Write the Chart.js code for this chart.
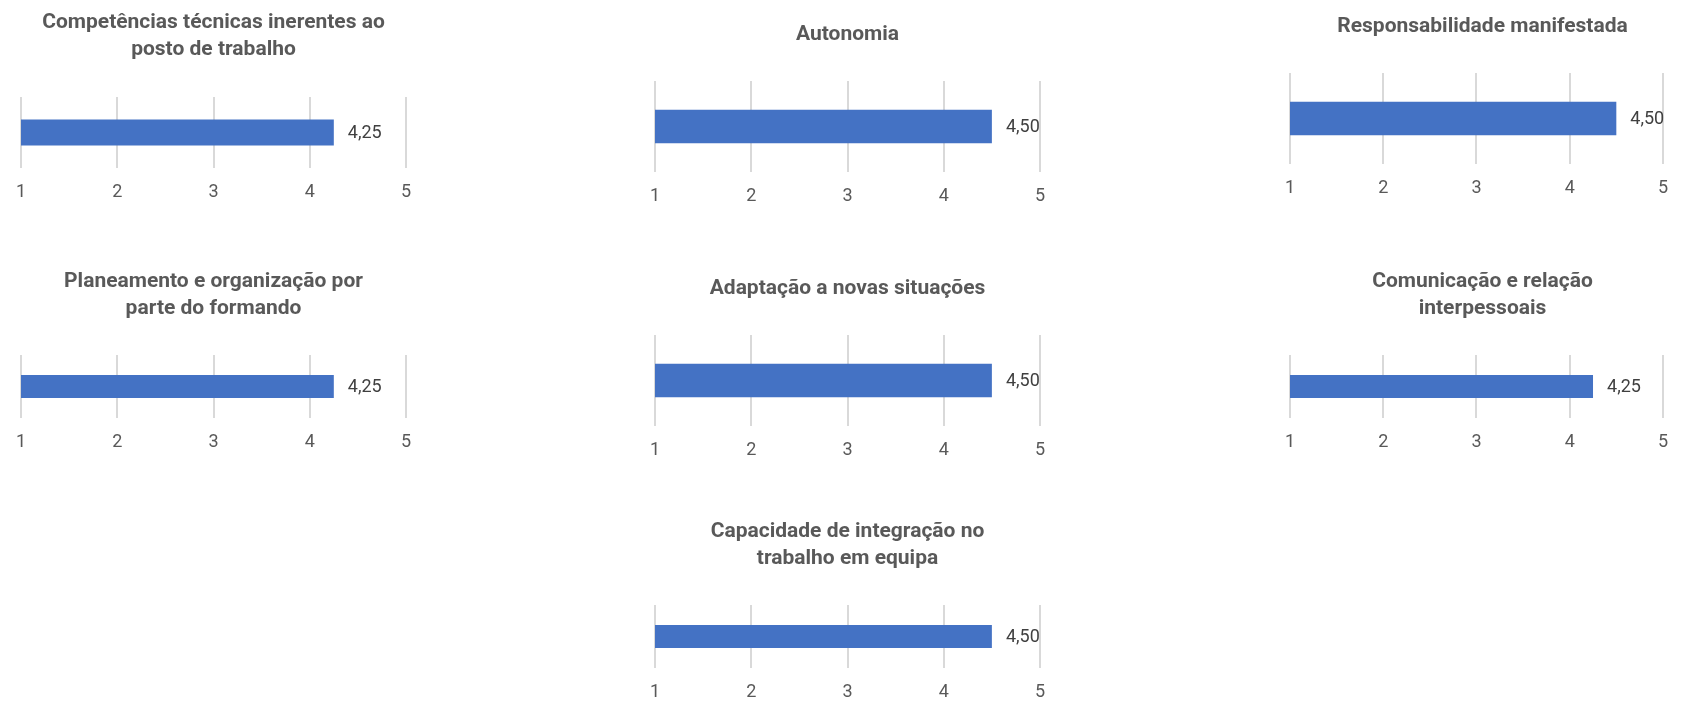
<!DOCTYPE html>
<html>
<head>
<meta charset="utf-8">
<script src="https://cdn.jsdelivr.net/npm/chart.js@4.4.1/dist/chart.umd.min.js"></script>
<style>
  body { margin: 0; background: #fff; }
  #page { position: relative; width: 1682px; height: 702px; overflow: hidden; }
  canvas { position: absolute; }
</style>
</head>
<body>
<div id="page"></div>
<script>
// data
var titles = [
    ['Competências técnicas inerentes ao', 'posto de trabalho'],
    ['Autonomia'],
    ['Responsabilidade manifestada'],
    ['Planeamento e organização por', 'parte do formando'],
    ['Adaptação a novas situações'],
    ['Comunicação e relação', 'interpessoais'],
    ['Capacidade de integração no', 'trabalho em equipa']
];
var scores = [4.25, 4.50, 4.50, 4.25, 4.50, 4.25, 4.50];
var scaleMin = 1;
var scaleMax = 5;

// where each small chart sits on the page (canvas box + plot area)
var panels = [
    { x: 0,    y: 0,   w: 560, h: 250, left: 21,   right: 406,  top: 97,  bottom: 168, titleY: 23 },
    { x: 560,  y: 0,   w: 560, h: 250, left: 655,  right: 1040, top: 81,  bottom: 172, titleY: 35 },
    { x: 1120, y: 0,   w: 562, h: 250, left: 1290, right: 1675, top: 73,  bottom: 164, titleY: 27 },
    { x: 0,    y: 250, w: 560, h: 250, left: 21,   right: 406,  top: 355, bottom: 418, titleY: 282 },
    { x: 560,  y: 250, w: 560, h: 250, left: 655,  right: 1040, top: 335, bottom: 426, titleY: 289 },
    { x: 1120, y: 250, w: 562, h: 250, left: 1290, right: 1675, top: 355, bottom: 418, titleY: 282 },
    { x: 560,  y: 500, w: 560, h: 202, left: 655,  right: 1040, top: 605, bottom: 668, titleY: 532 }
];

var titleLine = 27;
var tickPad = 14;
var tickLine = 21.6;

var valueLabels = {
    id: 'valueLabels',
    afterDatasetsDraw: function (chart) {
        var ctx = chart.ctx;
        var meta = chart.getDatasetMeta(0);
        ctx.save();
        ctx.font = '18px Roboto, "Liberation Sans", sans-serif';
        ctx.fillStyle = '#404040';
        ctx.textAlign = 'left';
        ctx.textBaseline = 'middle';
        meta.data.forEach(function (bar, i) {
            var v = chart.data.datasets[0].data[i];
            ctx.fillText(v.toFixed(2).replace('.', ','), bar.x + 14, bar.y + 1);
        });
        ctx.restore();
    }
};

var page = document.getElementById('page');

panels.forEach(function (p, i) {
    var canvas = document.createElement('canvas');
    canvas.width = p.w;
    canvas.height = p.h;
    canvas.style.left = p.x + 'px';
    canvas.style.top = p.y + 'px';
    page.appendChild(canvas);

    var lines = titles[i].length;
    var tTop = p.titleY - p.y - titleLine / 2;
    var tBottom = (p.top - p.y) - tTop - lines * titleLine;
    // chart.js counts the tick padding twice when sizing the axis
    var padBottom = (p.y + p.h) - (p.bottom + 2 * tickPad + tickLine);

    new Chart(canvas.getContext('2d'), {
        type: 'bar',
        data: {
            labels: [''],
            datasets: [{
                data: [scores[i]],
                backgroundColor: '#4472c4',
                borderWidth: 0,
                categoryPercentage: 1,
                barPercentage: 0.366
            }]
        },
        options: {
            indexAxis: 'y',
            responsive: false,
            animation: false,
            devicePixelRatio: 1,
            layout: {
                padding: {
                    left: p.left - p.x,
                    right: (p.x + p.w) - p.right,
                    top: 0,
                    bottom: padBottom
                }
            },
            plugins: {
                legend: { display: false },
                tooltip: { enabled: false },
                title: {
                    display: true,
                    text: titles[i],
                    color: '#595959',
                    font: { family: 'Roboto, "Liberation Sans", sans-serif', size: 21, weight: 'bold', lineHeight: titleLine + 'px' },
                    padding: { top: tTop, bottom: tBottom }
                }
            },
            scales: {
                x: {
                    min: scaleMin,
                    max: scaleMax,
                    ticks: {
                        stepSize: 1,
                        padding: tickPad,
                        color: '#595959',
                        font: { family: 'Roboto, "Liberation Sans", sans-serif', size: 18 }
                    },
                    grid: { color: '#d9d9d9', lineWidth: 2, drawTicks: false },
                    border: { display: false }
                },
                y: { display: false }
            }
        },
        plugins: [valueLabels]
    });
});
</script>
</body>
</html>
